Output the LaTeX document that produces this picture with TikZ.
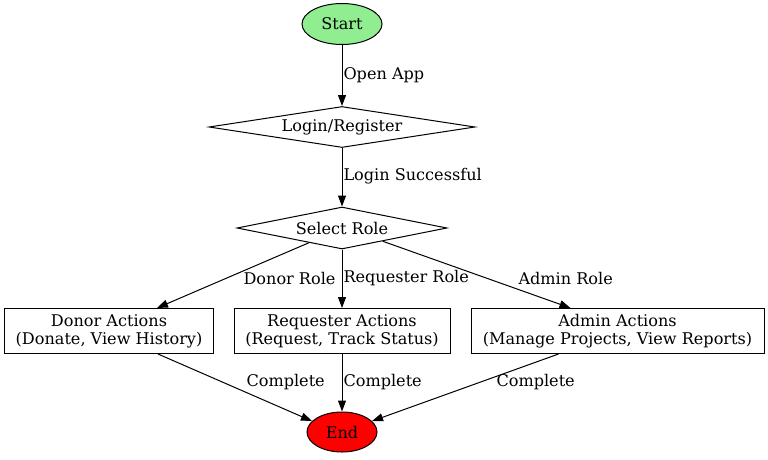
\documentclass[tikz,border=0pt]{standalone}
\usepackage{fontspec}
\setmainfont{DejaVu Serif}
\usetikzlibrary{arrows.meta,shapes.geometric}
\definecolor{startgreen}{RGB}{144,238,144}

\begin{document}
\begin{tikzpicture}[x=1pt, y=-1pt, line width=1pt,
		every node/.style={font=\fontsize{16.1}{18}\selectfont, inner sep=0pt},
		oval/.style={draw, ellipse},
		choice/.style={draw, diamond, aspect=6},
		actbox/.style={draw, rectangle, align=center},
		lbl/.style={anchor=west},
		flow/.style={-{Triangle[length=11pt, width=8pt]}}]
			%%%%% START %%%%%
			\useasboundingbox (0, 0) rectangle (768, 459);
			
			\node[oval, fill=startgreen, minimum width=80, minimum height=41] (start) at (342, 24) {Start};
			\node[choice, minimum width=266, minimum height=41] (login) at (342, 127) {Login/Register};
			\node[choice, minimum width=210, minimum height=42] (role) at (342, 228) {Select Role};
			
			\node[actbox, minimum width=209, minimum height=45] (donor) at (109, 331) {Donor Actions\\(Donate, View History)};
			\node[actbox, minimum width=216, minimum height=45] (requester) at (342, 331) {Requester Actions\\(Request, Track Status)};
			\node[actbox, minimum width=293, minimum height=45] (admin) at (617.5, 331) {Admin Actions\\(Manage Projects, View Reports)};
			
			\node[oval, fill=red, minimum width=70, minimum height=40] (end) at (342, 432) {End};
			
			\draw[flow] (start) -- (login);
			\draw[flow] (login) -- (role);
			\draw[flow] (role.204) -- ([xshift=48]donor.north);
			\draw[flow] (role) -- (requester);
			\draw[flow] (role.-18) -- ([xshift=-47]admin.north);
			\draw[flow] ([xshift=49]donor.south) -- (end.160);
			\draw[flow] (requester) -- (end);
			\draw[flow] ([xshift=-59]admin.south) -- (end.20);
			
			\node[lbl] (openapp) at (343, 75) {Open App};
			\node[lbl] (loginok) at (343, 176) {Login Successful};
			\node[anchor=east] (donorrole) at (336, 278) {Donor Role};
			\node[lbl] (reqrole) at (343, 278) {Requester Role};
			\node[lbl] (adminrole) at (518, 278) {Admin Role};
			\node[lbl] (donordone) at (246, 382) {Complete};
			\node[lbl] (reqdone) at (343, 382) {Complete};
			\node[lbl] (admindone) at (496, 382) {Complete};
			%%%%% END %%%%%
		\end{tikzpicture}
\end{document}
